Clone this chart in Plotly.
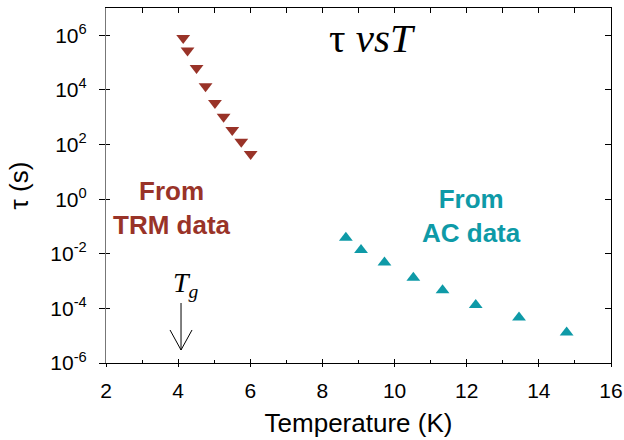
import plotly.graph_objects as go

# Data
trm_T = [4.14, 4.26, 4.51, 4.76, 5.02, 5.26, 5.50, 5.75, 6.01]
trm_tau = [7.9e5, 2.8e5, 6.3e4, 1.35e4, 3.3e3, 1.05e3, 340, 126, 45]
ac_T = [8.65, 9.07, 9.72, 10.52, 11.33, 12.25, 13.45, 14.77]
ac_tau = [0.039, 0.0138, 0.0048, 1.32e-3, 4.6e-4, 1.32e-4, 4.6e-5, 1.32e-5]
Tg = 4.08

x_ticks = [2, 4, 6, 8, 10, 12, 14, 16]
y_ticks = [1e-6, 1e-4, 1e-2, 1e0, 1e2, 1e4, 1e6]
y_ticktext = ["10<sup>-6</sup>", "10<sup>-4</sup>", "10<sup>-2</sup>", "10<sup>0</sup>",
              "10<sup>2</sup>", "10<sup>4</sup>", "10<sup>6</sup>"]

RED = "#993328"
TEAL = "#0e9aa7"
SANS = "Liberation Sans, Arial, sans-serif"
SERIF = "Liberation Serif, Times New Roman, serif"

fig = go.Figure()
fig.add_trace(go.Scatter(x=trm_T, y=trm_tau, mode="markers",
                         marker=dict(symbol="triangle-down", size=12, color=RED),
                         showlegend=False))
fig.add_trace(go.Scatter(x=ac_T, y=ac_tau, mode="markers",
                         marker=dict(symbol="triangle-up", size=12, color=TEAL),
                         showlegend=False))

XR = [2, 16]
YR = [-6, 7]

fig.update_layout(
    width=624, height=440,
    margin=dict(l=106, r=13, t=8, b=77, autoexpand=False),
    paper_bgcolor="white", plot_bgcolor="white",
    font=dict(family=SANS, color="black"),
    xaxis=dict(range=XR, showgrid=False, zeroline=False, automargin=False,
               showline=True, linecolor="black", linewidth=1.2,
               tickvals=x_ticks, ticks="outside", ticklen=3, tickcolor="black",
               ticklabelstandoff=6,
               tickfont=dict(size=21, family=SANS),
               title=dict(text="Temperature (K)", font=dict(size=26, family=SANS), standoff=12)),
    xaxis2=dict(range=XR, overlaying="x", anchor="y", side="bottom", automargin=False,
                showgrid=False, zeroline=False, showline=False,
                tickvals=x_ticks, ticks="inside", ticklen=4, tickcolor="black",
                showticklabels=False,
                minor=dict(tickvals=[3, 5, 7, 9, 11, 13, 15], ticks="inside", ticklen=3, tickcolor="black")),
    xaxis3=dict(range=XR, overlaying="x", anchor="y", side="top", automargin=False,
                showgrid=False, zeroline=False, showline=True, linecolor="black", linewidth=1.2,
                tickvals=list(range(3, 16)), ticks="inside", ticklen=5, tickcolor="black",
                showticklabels=False),
    yaxis=dict(type="log", range=YR, showgrid=False, zeroline=False, automargin=False,
               showline=True, linecolor="#777777", linewidth=1.2,
               tickvals=y_ticks, ticktext=y_ticktext, ticks="outside", ticklen=6, tickcolor="black",
               ticklabelstandoff=8,
               tickfont=dict(size=21, family=SANS),
               title=dict(text="τ (s)", font=dict(size=26, family=SANS), standoff=14)),
    yaxis2=dict(type="log", range=YR, overlaying="y", anchor="x", side="left", automargin=False,
                showgrid=False, zeroline=False, showline=False,
                tickvals=y_ticks, ticks="inside", ticklen=4, tickcolor="black",
                showticklabels=False),
    yaxis3=dict(type="log", range=YR, overlaying="y", anchor="x", side="right", automargin=False,
                showgrid=False, zeroline=False, showline=True, linecolor="black", linewidth=1.2,
                tickvals=y_ticks, ticks="inside", ticklen=6, tickcolor="black",
                showticklabels=False),
)

# invisible traces so the overlay axes exist
fig.add_trace(go.Scatter(x=[None], y=[None], xaxis="x2", yaxis="y2", showlegend=False, hoverinfo="skip"))
fig.add_trace(go.Scatter(x=[None], y=[None], xaxis="x3", yaxis="y3", showlegend=False, hoverinfo="skip"))

fig.add_annotation(text="τ <i>vsT</i>", xref="paper", yref="paper", x=0.527, y=0.915,
                   xanchor="center", yanchor="middle", showarrow=False,
                   font=dict(family=SERIF, size=41, color="black"))
fig.add_annotation(text="<b>From<br>TRM data</b>", xref="paper", yref="paper", x=0.131, y=0.438,
                   xanchor="center", yanchor="middle", showarrow=False,
                   font=dict(family=SANS, size=26, color=RED))
fig.add_annotation(text="<b>From<br>AC data</b>", xref="paper", yref="paper", x=0.723, y=0.414,
                   xanchor="center", yanchor="middle", showarrow=False,
                   font=dict(family=SANS, size=26, color=TEAL))
fig.add_annotation(text="<i>T</i><sub><i>g</i></sub>", xref="paper", yref="paper", x=0.158, y=0.2225,
                   xanchor="center", yanchor="middle", showarrow=False,
                   font=dict(family=SERIF, size=28, color="black"))

# arrow pointing at Tg
fig.add_shape(type="path", xref="x", yref="paper",
              path=f"M {Tg},0.169 L {Tg},0.0366 M {Tg-0.305},0.093 L {Tg},0.0366 L {Tg+0.305},0.093",
              line=dict(color="black", width=1))

# remove the default 8px body margin so the 624x440 figure fills the window exactly
fig.write_html("out.html", config={"displayModeBar": False},
               post_script="document.body.style.margin='0';")
